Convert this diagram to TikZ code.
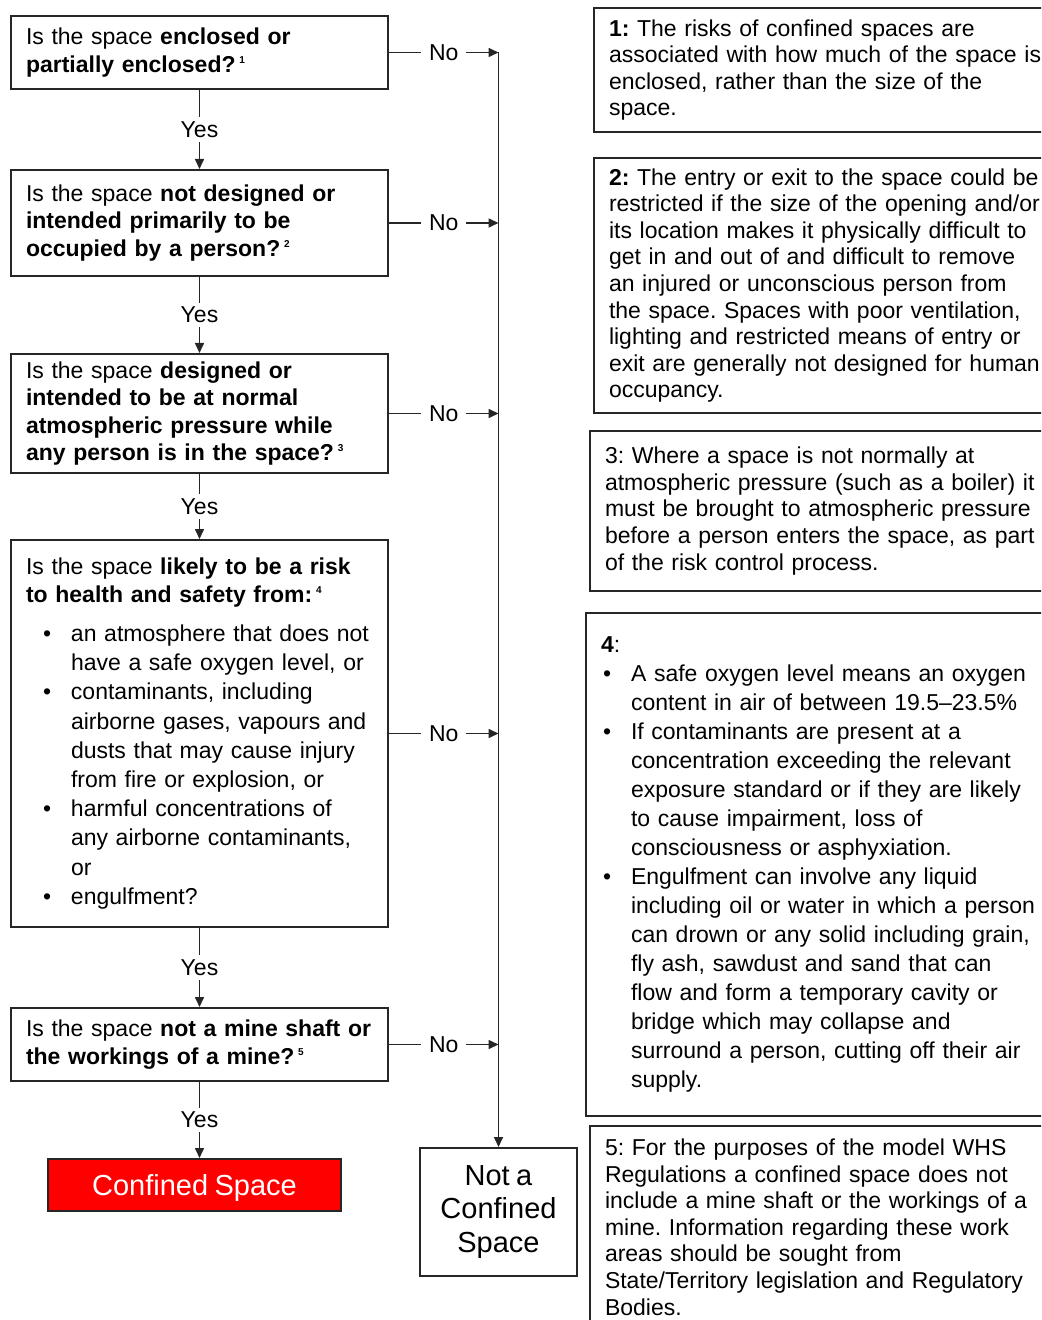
\documentclass[tikz,border=0pt]{standalone}
\usepackage{fontspec}
\setmainfont[WordSpace=0.8]{Liberation Sans}
\usetikzlibrary{arrows.meta}

\newcommand\bul[2]{\hspace*{#1}\makebox[14pt][l]{\textbullet}#2}
\newcommand\cont[2]{\hspace*{\dimexpr#1+14pt\relax}#2}
\newcommand\fn[1]{\,\textsuperscript{\tiny #1}}

\tikzset{
  qbox/.style={draw=black!85, line width=1pt, anchor=north west, align=left,
    inner xsep=7.5pt, inner ysep=0pt, text width=173.5pt,
    font=\fontsize{11.5}{13.75}\selectfont},
  nbox/.style={draw=black!85, line width=1pt, anchor=north west, align=left,
    inner xsep=7.5pt, inner ysep=0pt, text width=240pt,
    font=\fontsize{11.5}{13.3}\selectfont},
  endbox/.style={draw=black!85, line width=1pt, anchor=north west, align=center,
    inner sep=0pt, font=\fontsize{14.5}{16.75}\selectfont},
  lbl/.style={fill=white, inner xsep=4pt, inner ysep=2pt, font=\fontsize{11.5}{13.75}\selectfont},
  arr/.style={-{Triangle[length=5pt,width=4.5pt]}, line width=0.8pt, draw=black!85},
}

\begin{document}
\frenchspacing
\begin{tikzpicture}[x=0.5pt, y=-0.5pt]
\useasboundingbox (0,0) rectangle (1041,1320);
\clip (0,0) rectangle (1041,1320);

% questions
\node[qbox, minimum height=36.5pt] (q1) at (10,15) {%
  Is the space \textbf{enclosed or}\\
  \textbf{partially enclosed?\fn{1}}};
\node[qbox, minimum height=53pt] (q2) at (10,169) {%
  Is the space \textbf{not designed or}\\
  \textbf{intended primarily to be}\\
  \textbf{occupied by a person?\fn{2}}\par\vspace{4pt}};
\node[qbox, minimum height=59.5pt] (q3) at (10,353) {%
  Is the space \textbf{designed or}\\
  \textbf{intended to be at normal}\\
  \textbf{atmospheric pressure while}\\
  \textbf{any person is in the space?\fn{3}}\par\vspace{-6pt}};
\node[qbox, minimum height=193.5pt] (q4) at (10,539) {%
  Is the space \textbf{likely to be a risk}\\
  \textbf{to health and safety from:\fn{4}}\\[5pt]
  \fontsize{11.5}{14.6}\selectfont
  \bul{8.5pt}{an atmosphere that does not}\\
  \cont{8.5pt}{have a safe oxygen level, or}\\
  \bul{8.5pt}{contaminants, including}\\
  \cont{8.5pt}{airborne gases, vapours and}\\
  \cont{8.5pt}{dusts that may cause injury}\\
  \cont{8.5pt}{from fire or explosion, or}\\
  \bul{8.5pt}{harmful concentrations of}\\
  \cont{8.5pt}{any airborne contaminants,}\\
  \cont{8.5pt}{or}\\
  \bul{8.5pt}{engulfment?}\par\vspace{12pt}};
\node[qbox, minimum height=36.5pt] (q5) at (10,1007) {%
  Is the space \textbf{not a mine shaft or}\\
  \textbf{the workings of a mine?\fn{5}}};

% outcomes
\node[endbox, fill=red, text=white, minimum width=146.5pt, minimum height=26pt]
  (cs) at (47,1158) {\raisebox{0pt}[\height][\dimexpr\depth-5pt\relax]{Confined Space}};
\node[endbox, minimum width=78.5pt, minimum height=64pt]
  (ncs) at (419,1147) {Not a\\Confined\\Space};

% notes
\node[nbox, minimum height=62pt] (n1) at (593,7) {%
  \textbf{1:} The risks of confined spaces are\\
  associated with how much of the space is\\
  enclosed, rather than the size of the\\
  space.};
\node[nbox, minimum height=127.5pt] (n2) at (593,157) {%
  \textbf{2:} The entry or exit to the space could be\\
  restricted if the size of the opening and/or\\
  its location makes it physically difficult to\\
  get in and out of and difficult to remove\\
  an injured or unconscious person from\\
  the space. Spaces with poor ventilation,\\
  lighting and restricted means of entry or\\
  exit are generally not designed for human\\
  occupancy.};
\node[nbox, minimum height=80pt] (n3) at (589,430) {%
  3: Where a space is not normally at\\
  atmospheric pressure (such as a boiler) it\\
  must be brought to atmospheric pressure\\
  before a person enters the space, as part\\
  of the risk control process.\par\vspace{10pt}};
\node[nbox, minimum height=251.5pt, font=\fontsize{11.5}{14.5}\selectfont] (n4) at (585,612) {%
  \textbf{4}:\\
  \bul{1pt}{A safe oxygen level means an oxygen}\\
  \cont{1pt}{content in air of between 19.5--23.5\%}\\
  \bul{1pt}{If contaminants are present at a}\\
  \cont{1pt}{concentration exceeding the relevant}\\
  \cont{1pt}{exposure standard or if they are likely}\\
  \cont{1pt}{to cause impairment, loss of}\\
  \cont{1pt}{consciousness or asphyxiation.}\\
  \bul{1pt}{Engulfment can involve any liquid}\\
  \cont{1pt}{including oil or water in which a person}\\
  \cont{1pt}{can drown or any solid including grain,}\\
  \cont{1pt}{fly ash, sawdust and sand that can}\\
  \cont{1pt}{flow and form a temporary cavity or}\\
  \cont{1pt}{bridge which may collapse and}\\
  \cont{1pt}{surround a person, cutting off their air}\\
  \cont{1pt}{supply.}\par\vspace{30pt}};
\node[nbox, minimum height=101pt] (n5) at (589,1125) {%
  5: For the purposes of the model WHS\\
  Regulations a confined space does not\\
  include a mine shaft or the workings of a\\
  mine. Information regarding these work\\
  areas should be sought from\\
  State/Territory legislation and Regulatory\\
  Bodies.};

% yes path
\draw[arr] (q1) -- node[lbl] {Yes} (q2);
\draw[arr] (q2) -- node[lbl] {Yes} (q3);
\draw[arr] (q3) -- node[lbl] {Yes} (q4);
\draw[arr] (q4) -- node[lbl] {Yes} (q5);
\draw[arr] (q5.south) -- node[lbl] {Yes} (q5.south |- cs.north);

% no path
\foreach \q in {q1,q2,q3,q4,q5}
  \draw[arr] (\q.east) -- node[lbl] {No} (\q.east -| ncs.north);
\draw[arr] (q1.east -| ncs.north) -- (ncs.north);
\end{tikzpicture}
\end{document}
